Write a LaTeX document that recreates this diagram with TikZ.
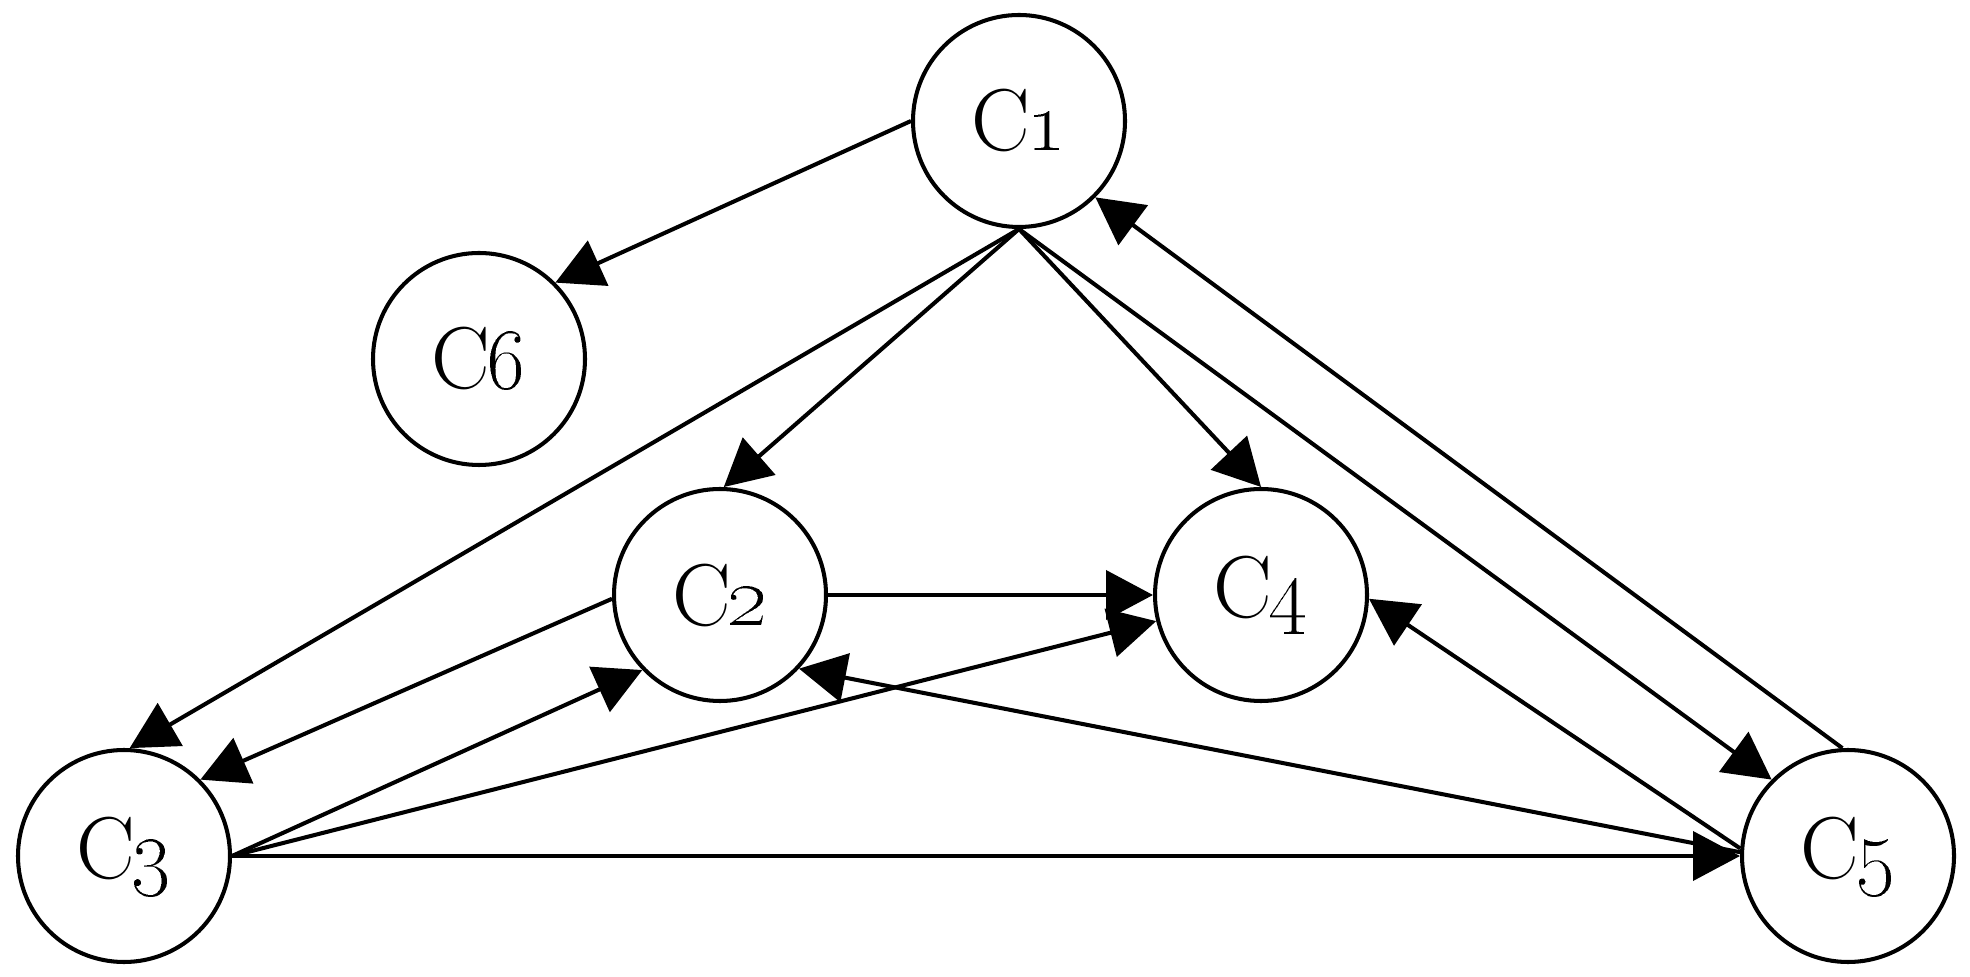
\documentclass[tikz,border=0pt]{standalone}
\usetikzlibrary{arrows.meta}

\begin{document}
\begin{tikzpicture}[
    cls/.style={draw,circle,line width=1.15pt,minimum size=2.12cm,inner sep=0pt,
        font=\fontsize{25}{29}\selectfont},
    link/.style={line width=1.15pt,-{Triangle[length=4.7mm,width=4.9mm]}}]
\useasboundingbox (0,0) rectangle (19.70,9.76);
\node [cls] (c1) at (10.19,8.55) {C\kern-1pt\oldstylenums{1}};
\node [cls] (c6) at (4.79,6.17) {C\kern-1pt\oldstylenums{6}};
\node [cls] (c2) at (7.20,3.81) {C\kern-1pt\oldstylenums{2}};
\node [cls] (c4) at (12.61,3.81) {C\kern-1pt\oldstylenums{4}};
\node [cls] (c3) at (1.24,1.20) {C\kern-1pt\oldstylenums{3}};
\node [cls] (c5) at (18.48,1.20) {C\kern-1pt\oldstylenums{5}};
% from c1
\draw [link] (c1.west) -- (c6.45);
\draw [link] (c1.south) -- (c2.88);
\draw [link] (c1.south) -- (c3.87);
\draw [link] (c1.south) -- (c4.north);
\draw [link] (c1.south) -- (c5.135);
\draw [link] (c5.93) -- (c1.315);
% middle row
\draw [link] (c2.east) -- (c4.west);
\draw [link] (c2.182) -- (c3.45);
\draw [link] (c3.east) -- (c2.224);
\draw [link] (c3.east) -- (c4.194);
\draw [link] (c3.east) -- (c5.west);
\draw [link] (c5.178) -- (c2.317);
\draw [link] (c5.176) -- (c4.358);
\end{tikzpicture}
\end{document}
